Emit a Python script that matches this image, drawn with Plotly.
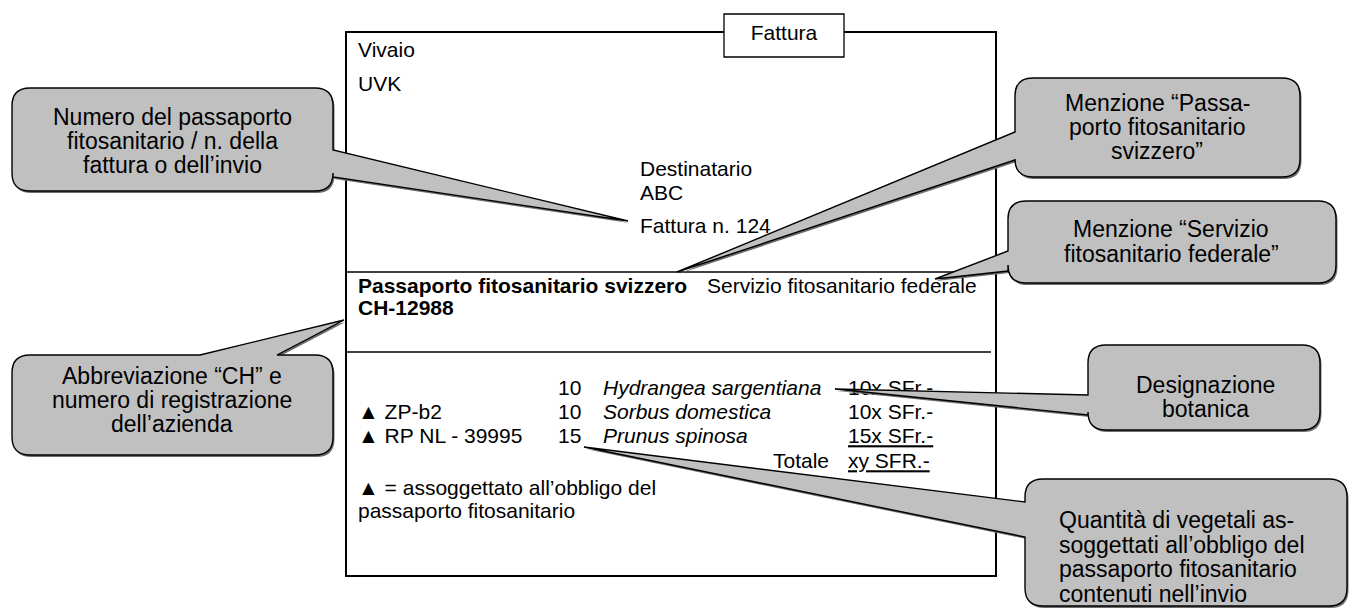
import plotly.graph_objects as go

W, H = 1352, 610
FONT = "Liberation Sans, Arial, Helvetica, sans-serif"

# ---------------- content (text data) ----------------
doc_title = "Fattura"
sender_lines = ["Vivaio", "UVK"]
recipient_lines = ["Destinatario", "ABC", "Fattura n. 124"]
passport_title = "Passaporto fitosanitario svizzero"
service_label = "Servizio fitosanitario federale"
registration = "CH-12988"
passport_codes = ["", "▲ ZP-b2", "▲ RP NL - 39995"]
quantities = ["10", "10", "15"]
species = ["Hydrangea sargentiana", "Sorbus domestica", "Prunus spinosa"]
prices = ["10x SFr.-", "10x SFr.-", "15x SFr.-"]
price_underlined = [False, False, True]
total_label = "Totale"
total_value = "xy SFR.-"
footnote_lines = ["▲ = assoggettato all’obbligo del", "passaporto fitosanitario"]

callout_numero = ["Numero del passaporto", "fitosanitario / n. della", "fattura o dell’invio"]
callout_passaporto = ["Menzione “Passa-", "porto fitosanitario", "svizzero”"]
callout_servizio = ["Menzione “Servizio", "fitosanitario federale”"]
callout_ch = ["Abbreviazione “CH” e", "numero di registrazione", "dell’azienda"]
callout_botanica = ["Designazione", "botanica"]
callout_quantita = ["Quantità di vegetali as-", "soggettati all’obbligo del",
                    "passaporto fitosanitario", "contenuti nell’invio"]

# ---------------- layout geometry (pixels, y down) ----------------
BOX = (346, 32, 996, 576)
TITLE_BOX = (724, 14, 844, 57)
RULES_Y = [272, 352]
LEFT_X = 358
ROW_Y = [390, 414, 438]
TOTAL_Y = 463
QTY_X, SPECIES_X, PRICE_X, TOTAL_RIGHT_X = 558, 603, 848, 829
BODY_SIZE = 21
CALLOUT_SIZE = 23

callouts = [
    dict(box=(12, 88, 333, 191), side="right", base=(150, 177), tip=(628, 221),
         lines=callout_numero, tx=172, ty0=117, dy=24, align="center"),
    dict(box=(1015, 78, 1300, 177), side="left", base=(132, 160), tip=(677, 272),
         lines=callout_passaporto, tx=1157, ty0=103, dy=24, align="center"),
    dict(box=(1008, 201, 1336, 283), side="left", base=(251, 271), tip=(935, 279),
         lines=callout_servizio, tx=1171, ty0=229, dy=25, align="center"),
    dict(box=(12, 355, 333, 455), side="top", base=(200, 277), tip=(344, 320),
         lines=callout_ch, tx=172, ty0=376, dy=24, align="center"),
    dict(box=(1088, 345, 1320, 430), side="left", base=(395, 415), tip=(835, 389),
         lines=callout_botanica, tx=1205, ty0=385, dy=24, align="center"),
    dict(box=(1025, 479, 1347, 606), side="left", base=(502, 537), tip=(584, 447),
         lines=callout_quantita, tx=1057, ty0=520, dy=24.5, align="left"),
]


def callout_path(box, side, base, tip, r=18, ox=0, oy=0):
    x0, y0, x1, y1 = box[0] + ox, box[1] + oy, box[2] + ox, box[3] + oy
    b1, b2 = base[0] + (ox if side == "top" else oy), base[1] + (ox if side == "top" else oy)
    tx, ty = tip[0] + ox, tip[1] + oy
    p = [f"M{x0 + r},{y0}"]
    if side == "top":
        p += [f"L{b1},{y0}", f"L{tx},{ty}", f"L{b2},{y0}"]
    p += [f"L{x1 - r},{y0}", f"Q{x1},{y0} {x1},{y0 + r}"]
    if side == "right":
        p += [f"L{x1},{b1}", f"L{tx},{ty}", f"L{x1},{b2}"]
    p += [f"L{x1},{y1 - r}", f"Q{x1},{y1} {x1 - r},{y1}"]
    p += [f"L{x0 + r},{y1}", f"Q{x0},{y1} {x0},{y1 - r}"]
    if side == "left":
        p += [f"L{x0},{b2}", f"L{tx},{ty}", f"L{x0},{b1}"]
    p += [f"L{x0},{y0 + r}", f"Q{x0},{y0} {x0 + r},{y0}", "Z"]
    return " ".join(p)


fig = go.Figure()

shapes = []
# main invoice frame
shapes.append(dict(type="rect", xref="x", yref="y", x0=BOX[0], y0=BOX[1], x1=BOX[2], y1=BOX[3],
                   line=dict(color="black", width=2), fillcolor="rgba(0,0,0,0)", layer="below"))
for ry in RULES_Y:
    shapes.append(dict(type="line", xref="x", yref="y", x0=BOX[0], x1=BOX[2] - 5, y0=ry, y1=ry,
                       line=dict(color="black", width=1.3), layer="below"))
shapes.append(dict(type="rect", xref="x", yref="y", x0=TITLE_BOX[0], y0=TITLE_BOX[1],
                   x1=TITLE_BOX[2], y1=TITLE_BOX[3],
                   line=dict(color="black", width=1.3), fillcolor="white", layer="below"))

# callouts (shadow + body), drawn above the text traces
for c in callouts:
    shapes.append(dict(type="path", xref="x", yref="y",
                       path=callout_path(c["box"], c["side"], c["base"], c["tip"], ox=1.5, oy=2),
                       fillcolor="#6e6e6e", line=dict(width=0), layer="above"))
    shapes.append(dict(type="path", xref="x", yref="y",
                       path=callout_path(c["box"], c["side"], c["base"], c["tip"]),
                       fillcolor="#c0c0c0", line=dict(color="black", width=1.4), layer="above"))


def add_text(xs, ys, texts, pos="middle right", size=BODY_SIZE):
    fig.add_trace(go.Scatter(x=xs, y=ys, text=texts, mode="text", textposition=pos,
                             textfont=dict(family=FONT, size=size, color="black"),
                             hoverinfo="skip", showlegend=False))


# title box text
add_text([(TITLE_BOX[0] + TITLE_BOX[2]) / 2], [(TITLE_BOX[1] + TITLE_BOX[3]) / 2 - 1],
         [doc_title], pos="middle center")
# sender
add_text([LEFT_X] * len(sender_lines), [52, 86], sender_lines)
# recipient
add_text([640] * len(recipient_lines), [171, 195, 228], recipient_lines)
# passport header
add_text([LEFT_X, 707, LEFT_X], [288, 288, 310],
         [f"<b>{passport_title}</b>", service_label, f"<b>{registration}</b>"])
# table rows
add_text([LEFT_X] * 3, ROW_Y, passport_codes)
add_text([QTY_X] * 3, ROW_Y, quantities)
add_text([SPECIES_X] * 3, ROW_Y, [f"<i>{s}</i>" for s in species])
add_text([PRICE_X] * 3, ROW_Y, [f"<u>{p}</u>" if u else p for p, u in zip(prices, price_underlined)])
add_text([TOTAL_RIGHT_X], [TOTAL_Y], [total_label], pos="middle left")
add_text([PRICE_X], [TOTAL_Y], [f"<u>{total_value}</u>"])
# footnote
add_text([LEFT_X] * 2, [490, 513], footnote_lines)

# callout texts
annotations = []
for c in callouts:
    for i, line in enumerate(c["lines"]):
        annotations.append(dict(x=c["tx"], y=c["ty0"] + i * c["dy"], xref="x", yref="y",
                                text=line, showarrow=False,
                                xanchor="center" if c["align"] == "center" else "left",
                                yanchor="middle",
                                font=dict(family=FONT, size=CALLOUT_SIZE, color="black")))

fig.update_layout(
    width=W, height=H,
    margin=dict(l=0, r=0, t=0, b=0),
    paper_bgcolor="white", plot_bgcolor="white",
    xaxis=dict(range=[0, W], visible=False, fixedrange=True),
    yaxis=dict(range=[H, 0], visible=False, fixedrange=True),
    shapes=shapes, annotations=annotations,
    showlegend=False,
)

fig.write_html(
    "out.html",
    config={"displayModeBar": False},
    post_script="document.body.style.margin='0px';document.body.style.overflow='hidden';",
)
